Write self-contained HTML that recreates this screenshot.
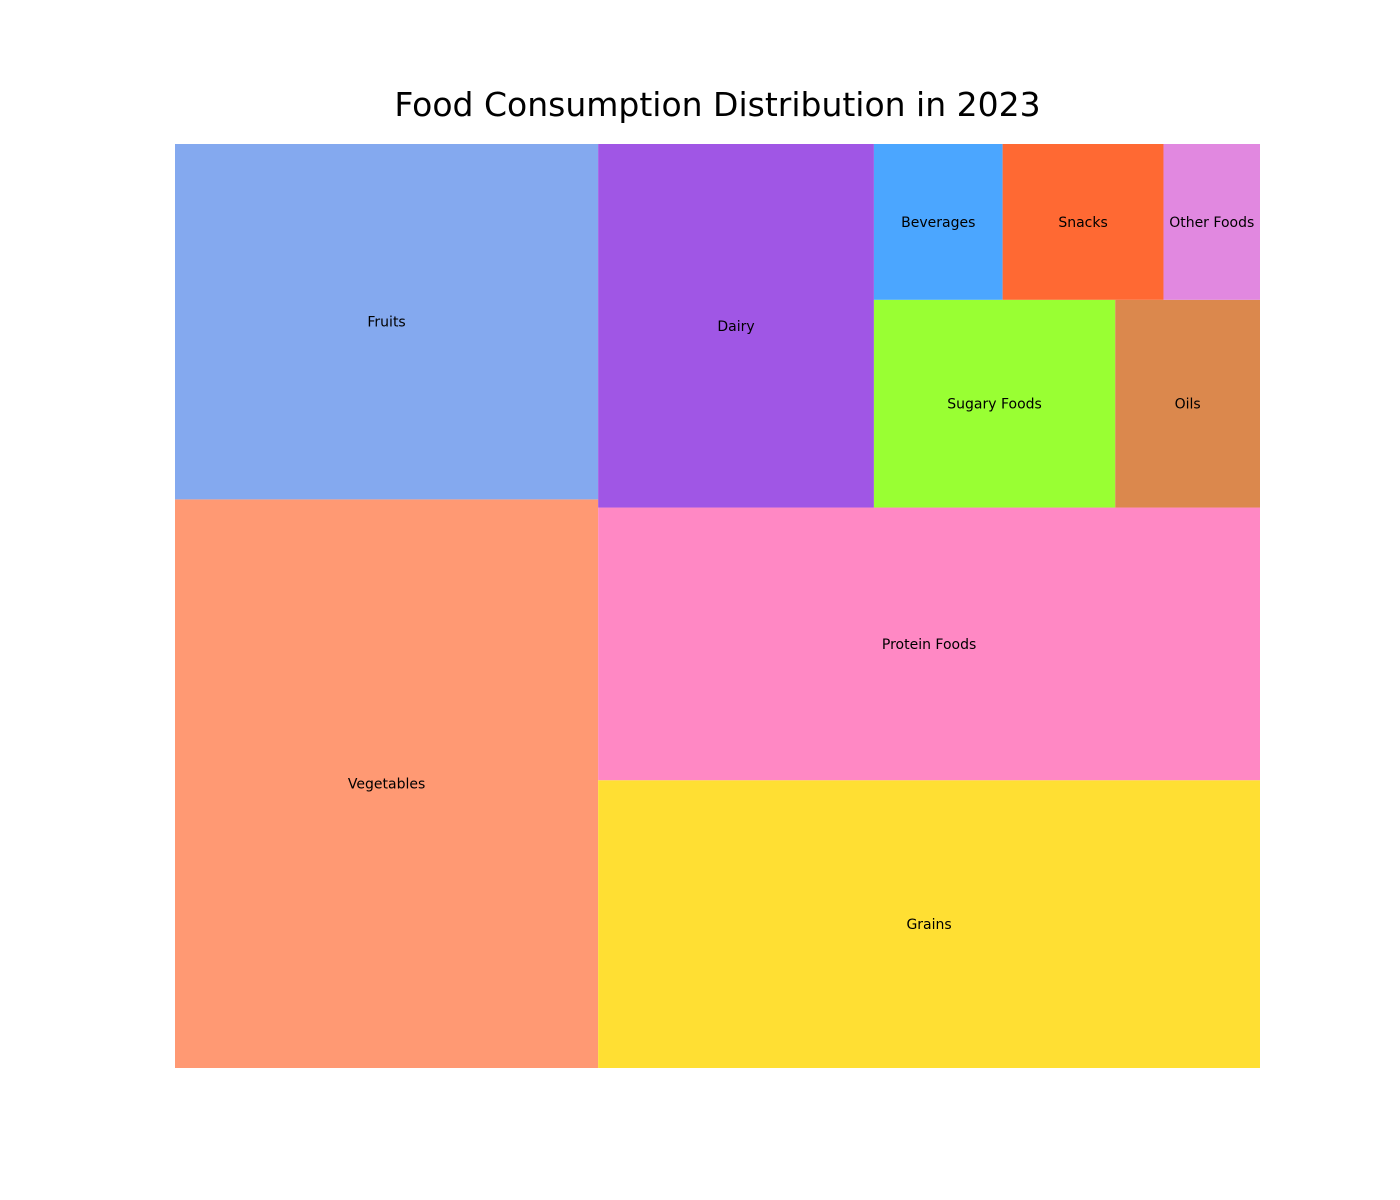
<!DOCTYPE html>
<html><head><meta charset="utf-8"><style>
html,body{margin:0;padding:0;background:#fff;}
svg{display:block;font-family:"DejaVu Sans","Liberation Sans",sans-serif;}
</style></head><body>
<svg id="chart" width="1400" height="1200" viewBox="0 0 1400 1200" xmlns="http://www.w3.org/2000/svg">
<text x="717.5" y="116" text-anchor="middle" font-size="33" fill="#000">Food Consumption Distribution in 2023</text>
<g id="tiles"></g>
</svg>
<script>
const categories = ["Vegetables","Fruits","Grains","Protein Foods","Dairy","Sugary Foods","Oils","Beverages","Snacks","Other Foods"];
const values = [24,15,19,18,10,5,3,2,2.5,1.5];
const colors = ["#ff9973","#84a9ef","#ffdf33","#ff88c4","#a056e5","#99ff33","#db884d","#4ba6ff","#ff6933","#e188e0"];

const PX0=175, PX1=1260, PY0=144, PY1=1068, W=100, H=100;
function sx(x){return PX0 + x/W*(PX1-PX0);}
function sy(y){return PY1 - y/H*(PY1-PY0);}

function normalize(vals,dx,dy){const t=vals.reduce((a,b)=>a+b,0);return vals.map(v=>v*dx*dy/t);}
function layoutrow(s,x,y,dx,dy){const c=s.reduce((a,b)=>a+b,0);const w=c/dy;let r=[],yy=y;for(const v of s){r.push({x:x,y:yy,dx:w,dy:v/w});yy+=v/w;}return r;}
function layoutcol(s,x,y,dx,dy){const c=s.reduce((a,b)=>a+b,0);const h=c/dx;let r=[],xx=x;for(const v of s){r.push({x:xx,y:y,dx:v/h,dy:h});xx+=v/h;}return r;}
function layout(s,x,y,dx,dy){return dx>=dy?layoutrow(s,x,y,dx,dy):layoutcol(s,x,y,dx,dy);}
function leftover(s,x,y,dx,dy){const c=s.reduce((a,b)=>a+b,0);if(dx>=dy){const w=c/dy;return [x+w,y,dx-w,dy];}const h=c/dx;return [x,y+h,dx,dy-h];}
function worst(s,x,y,dx,dy){return Math.max(...layout(s,x,y,dx,dy).map(r=>Math.max(r.dx/r.dy,r.dy/r.dx)));}
function squarify(s,x,y,dx,dy){
  if(s.length===0)return [];
  if(s.length===1)return layout(s,x,y,dx,dy);
  let i=1;
  while(i<s.length && worst(s.slice(0,i),x,y,dx,dy)>=worst(s.slice(0,i+1),x,y,dx,dy))i++;
  const cur=s.slice(0,i), rem=s.slice(i);
  const [lx,ly,ldx,ldy]=leftover(cur,x,y,dx,dy);
  return layout(cur,x,y,dx,dy).concat(squarify(rem,lx,ly,ldx,ldy));
}
const rects=squarify(normalize(values,W,H),0,0,W,H);
const g=document.getElementById('tiles');
const NS="http://www.w3.org/2000/svg";
rects.forEach((r,i)=>{
  const x0=sx(r.x), x1=sx(r.x+r.dx), yt=sy(r.y+r.dy), yb=sy(r.y);
  const rect=document.createElementNS(NS,'rect');
  
  
  rect.setAttribute('x',x0);rect.setAttribute('y',yt);
  rect.setAttribute('width',x1-x0);rect.setAttribute('height',yb-yt);
  rect.setAttribute('fill',colors[i]);
  g.appendChild(rect);
  const t=document.createElementNS(NS,'text');
  
  
  t.setAttribute('x',(x0+x1)/2);t.setAttribute('y',(yt+yb)/2+5);
  t.setAttribute('text-anchor','middle');t.setAttribute('font-size','14');t.setAttribute('fill','#000');
  t.textContent=categories[i];
  g.appendChild(t);
});
</script>
</body></html>
